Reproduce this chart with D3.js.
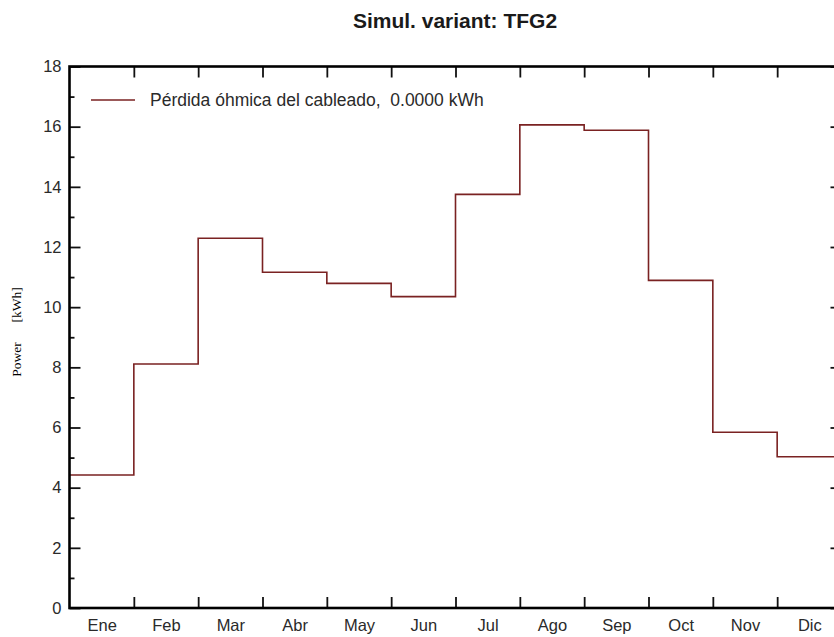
<!DOCTYPE html>
<html>
<head>
<meta charset="utf-8">
<script src="https://cdn.jsdelivr.net/npm/d3@7"></script>
<style>
  html, body { margin: 0; padding: 0; background: #fff; }
  svg { display: block; }
</style>
</head>
<body>
<div id="chart"></div>
<script>
// Monthly wiring ohmic loss, drawn as a monthly step line
const months = ["Ene", "Feb", "Mar", "Abr", "May", "Jun", "Jul", "Ago", "Sep", "Oct", "Nov", "Dic"];
const lossKWh = [4.42, 8.11, 12.29, 11.16, 10.79, 10.35, 13.75, 16.06, 15.88, 10.89, 5.84, 5.03];
const yMajorTicks = [0, 2, 4, 6, 8, 10, 12, 14, 16, 18];
const yMinorTicks = [1, 3, 5, 7, 9, 11, 13, 15, 17];
const titleText = "Simul. variant: TFG2";
const legendText = "Pérdida óhmica del cableado,  0.0000 kWh";

const W = 834, H = 637;
const plot = { left: 69.5, right: 841.5, top: 66.5, bottom: 608 };
const lineColor = "#7a2222";
const inkColor = "#2a2a2a";
const fontSans = "Liberation Sans, Arial, sans-serif";
const tickFont = 16.5;

const svg = d3.select("#chart").append("svg")
  .attr("width", W).attr("height", H);

const x = d3.scaleLinear().domain([0, 12]).range([plot.left, plot.right]);
const y = d3.scaleLinear().domain([0, 18]).range([plot.bottom, plot.top]);

// Title
svg.append("text")
  .attr("x", 455).attr("y", 28)
  .attr("text-anchor", "middle")
  .attr("font-family", fontSans)
  .attr("font-weight", "bold")
  .attr("font-size", 21)
  .attr("fill", "#1a1a1a")
  .text(titleText);

// Step series: each month holds its value across its full width
const stepPts = lossKWh.map((v, i) => [i, v]).concat([[12, lossKWh[11]]]);
const stepLine = d3.line()
  .x(d => x(d[0]))
  .y(d => y(d[1]))
  .curve(d3.curveStepAfter);

svg.append("path")
  .datum(stepPts)
  .attr("d", stepLine)
  .attr("fill", "none")
  .attr("stroke", lineColor)
  .attr("stroke-width", 1.6);

function styleAxis(g) {
  g.select(".domain").remove();
  g.selectAll(".tick line").attr("stroke", "#111").attr("stroke-width", 1.8);
  g.selectAll(".tick text")
    .attr("font-family", fontSans)
    .attr("font-size", tickFont)
    .attr("fill", inkColor);
}

// Left axis: major ticks with labels, minor ticks without
const leftMajor = svg.append("g")
  .attr("transform", `translate(${plot.left},0)`)
  .call(d3.axisLeft(y).tickValues(yMajorTicks).tickSizeInner(-11).tickSizeOuter(0).tickPadding(8).tickFormat(d3.format("d")));
styleAxis(leftMajor);

const leftMinor = svg.append("g")
  .attr("transform", `translate(${plot.left},0)`)
  .call(d3.axisLeft(y).tickValues(yMinorTicks).tickSizeInner(-5).tickSizeOuter(0).tickFormat(""));
styleAxis(leftMinor);

// Right axis (inward ticks)
const rightMajor = svg.append("g")
  .attr("transform", `translate(${plot.right},0)`)
  .call(d3.axisRight(y).tickValues(yMajorTicks).tickSizeInner(-11).tickSizeOuter(0).tickFormat(""));
styleAxis(rightMajor);

// Bottom axis: month boundary ticks pointing up, labels centered per month
const boundaries = d3.range(1, 12);
const bottomTicks = svg.append("g")
  .attr("transform", `translate(0,${plot.bottom})`)
  .call(d3.axisBottom(x).tickValues(boundaries).tickSizeInner(-11).tickSizeOuter(0).tickFormat(""));
styleAxis(bottomTicks);

const bottomLabels = svg.append("g")
  .attr("transform", `translate(0,${plot.bottom})`)
  .call(d3.axisBottom(x).tickValues(d3.range(12).map(i => i + 0.5)).tickSize(0).tickPadding(11)
    .tickFormat((d, i) => months[i]));
styleAxis(bottomLabels);
bottomLabels.selectAll(".tick line").remove();

// Top axis: month boundary ticks pointing down
const topTicks = svg.append("g")
  .attr("transform", `translate(0,${plot.top})`)
  .call(d3.axisTop(x).tickValues(boundaries).tickSizeInner(-11).tickSizeOuter(0).tickFormat(""));
styleAxis(topTicks);

// Plot frame
svg.append("rect")
  .attr("x", plot.left).attr("y", plot.top)
  .attr("width", plot.right - plot.left).attr("height", plot.bottom - plot.top)
  .attr("fill", "none")
  .attr("stroke", "#000")
  .attr("stroke-width", 2.6);

// Y axis title
const yTitle = svg.append("text")
  .attr("transform", "translate(21,332) rotate(-90)")
  .attr("text-anchor", "middle")
  .attr("font-family", "Liberation Serif, Times New Roman, serif")
  .attr("font-size", 13.5)
  .attr("fill", "#000");
yTitle.append("tspan").text("Power");
yTitle.append("tspan").attr("dx", 20).text("[kWh]");

// Legend
const legend = svg.append("g").attr("transform", "translate(91,100)");
legend.append("line")
  .attr("x1", 0).attr("x2", 44).attr("y1", 0).attr("y2", 0)
  .attr("stroke", lineColor).attr("stroke-width", 1.6);
legend.append("text")
  .attr("x", 59).attr("y", 6)
  .attr("font-family", fontSans)
  .attr("font-size", 17.5)
  .attr("fill", inkColor)
  .style("white-space", "pre")
  .text(legendText);
</script>
</body>
</html>
